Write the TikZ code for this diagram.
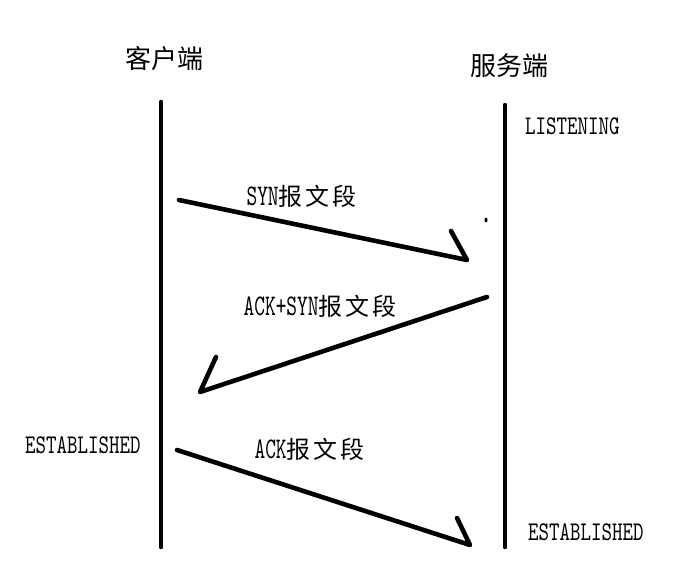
\documentclass[tikz,border=0pt]{standalone}
\usepackage{fontspec}
\newfontfamily\cjktitle{Noto Sans CJK SC}
\newfontfamily\cjklabel[LetterSpace=12]{Noto Sans CJK SC}
\newfontfamily\latstate[Extension=.otf,FakeStretch=0.74]{lmmono10-regular}
\newfontfamily\latlabel[Extension=.otf,FakeStretch=0.68]{lmmono10-regular}
\newcommand{\msglabel}[2]{{\latlabel\fontsize{30}{30}\selectfont #1}{\cjklabel\fontsize{24}{24}\selectfont #2}}
\begin{document}
\begin{tikzpicture}[x=1pt,y=-1pt,
  lifeline/.style={line width=4.6pt,line cap=round},
  msg/.style={line width=4.6pt,line cap=round,line join=round},
  title/.style={inner sep=0pt,font=\cjktitle\fontsize{26}{26}\selectfont},
  state/.style={inner sep=0pt,anchor=west,font=\latstate\fontsize{27}{27}\selectfont},
  lbl/.style={inner sep=0pt}]
\useasboundingbox[fill=white] (0,0) rectangle (681,582);
% titles
\node[title] (client) at (164.5,58.5) {客户端};
\node[title] (server) at (509.5,65.5) {服务端};
% lifelines
\coordinate (ctop) at (161,102);
\coordinate (cbot) at (161,547);
\coordinate (stop) at (505,105);
\coordinate (sbot) at (505,547);
\draw[lifeline] (ctop) -- (cbot);
\draw[lifeline] (stop) -- (sbot);
% states
\node[state] (listen) at (525,126.5) {LISTENING};
\node[state] (estc) at (25,445.5) {ESTABLISHED};
\node[state] (ests) at (528,532) {ESTABLISHED};
% message 1
\coordinate (m1s) at (179,200);
\coordinate (m1e) at (467,260);
\coordinate (m1b) at (451,231);
\draw[msg] (m1s) -- (m1e) -- (m1b);
\node[lbl] (l1) at (301.5,196) {\msglabel{SYN}{报文段}};
% stray dot
\fill (486,220) ellipse (1.5 and 2.5);
% message 2
\coordinate (m2s) at (487,297);
\coordinate (m2e) at (200,392);
\coordinate (m2b) at (216,357);
\draw[msg] (m2s) -- (m2e) -- (m2b);
\node[lbl] (l2) at (320,306) {\msglabel{ACK+SYN}{报文段}};
% message 3
\coordinate (m3s) at (177,450);
\coordinate (m3e) at (470,545);
\coordinate (m3b) at (457,518);
\draw[msg] (m3s) -- (m3e) -- (m3b);
\node[lbl] (l3) at (309.5,449) {\msglabel{ACK}{报文段}};
\end{tikzpicture}
\end{document}
